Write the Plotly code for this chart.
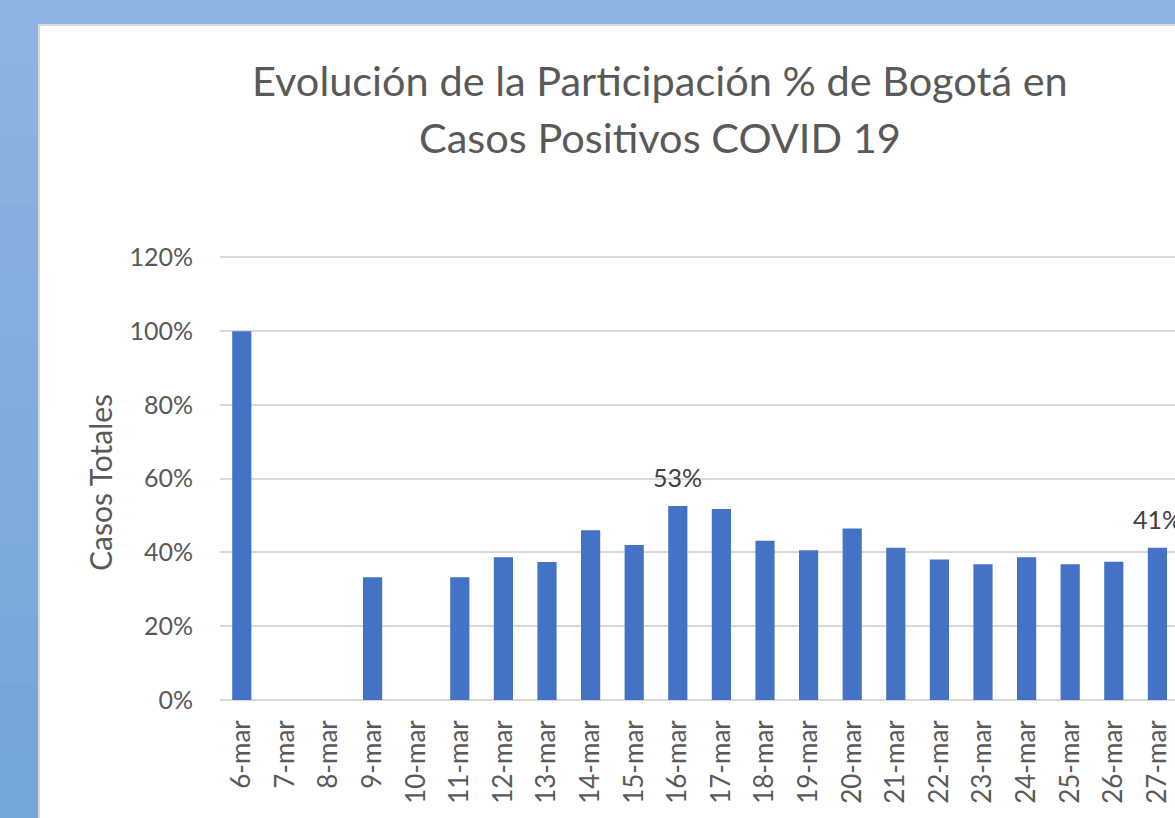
import plotly.graph_objects as go

# participación de Bogotá en casos positivos (fracción)
fechas = [f"{d}-mar" for d in range(6, 28)]
participacion = [
    1.000, 0.0, 0.0, 0.333, 0.0, 0.333, 0.387, 0.374, 0.460, 0.420, 0.526,
    0.518, 0.432, 0.406, 0.465, 0.413, 0.381, 0.368, 0.387, 0.368, 0.375, 0.413,
]
etiquetas = ["16-mar", "27-mar"]
y_ticks = [0, 0.2, 0.4, 0.6, 0.8, 1.0, 1.2]

W, H = 1175, 818
L, T, B = 220, 250, 118
plot_w = W - L
plot_h = H - T - B
step = 43.6

FONT = "Lato, 'Open Sans', sans-serif"
GRAY = "#595959"
GRID = "#d9d9d9"

fig = go.Figure()
fig.add_trace(go.Bar(
    x=fechas, y=participacion,
    marker=dict(color="#4472c4", line=dict(width=0)),
    hoverinfo="x+y",
))

annotations = []
for f in etiquetas:
    v = participacion[fechas.index(f)]
    annotations.append(dict(x=f, y=v, xref="x", yref="y", text=f"{v:.0%}", showarrow=False,
                            xanchor="center", yanchor="middle", yshift=29,
                            font=dict(family=FONT, size=25, color="#404040")))


def px_x(px):
    return (px - L) / plot_w


def px_y(py):
    return (H - B - py) / plot_h


annotations += [
    dict(x=px_x(660), y=px_y(80), text="Evolución de la Participación % de Bogotá en",
         font=dict(family=FONT, size=41.5, color=GRAY)),
    dict(x=px_x(660), y=px_y(137), text="Casos Positivos COVID 19",
         font=dict(family=FONT, size=41.5, color=GRAY)),
    dict(x=px_x(100), y=px_y(483), text="Casos Totales", textangle=-90,
         font=dict(family=FONT, size=30, color=GRAY)),
]
for a in annotations[2:]:
    a.update(xref="paper", yref="paper", showarrow=False, xanchor="center", yanchor="middle")

# fondo azul con degradado suave en la franja izquierda
top_rgb, bot_rgb = (141, 179, 226), (117, 166, 217)
n_bands = 12
shapes = []
for i in range(n_bands):
    t = i / (n_bands - 1)
    c = tuple(round(a + (b - a) * t) for a, b in zip(top_rgb, bot_rgb))
    shapes.append(dict(type="rect", xref="paper", yref="paper", layer="below",
                       x0=px_x(0), x1=px_x(W), y0=px_y(H * (i + 1) / n_bands), y1=px_y(H * i / n_bands),
                       fillcolor=f"rgb{c}", line=dict(width=0)))
shapes.append(dict(type="rect", xref="paper", yref="paper", layer="below",
                   x0=px_x(39), x1=px_x(1400), y0=px_y(1000), y1=px_y(25),
                   fillcolor="white", line=dict(color=GRID, width=2)))

fig.update_layout(
    width=W, height=H,
    margin=dict(l=L, r=0, t=T, b=B, pad=0),
    paper_bgcolor="#89b0df",
    plot_bgcolor="rgba(0,0,0,0)",
    bargap=0.56,
    showlegend=False,
    annotations=annotations,
    shapes=shapes,
    font=dict(family=FONT, color=GRAY),
)
fig.update_xaxes(
    type="category", range=[-0.5, -0.5 + plot_w / step],
    tickangle=-90, tickfont=dict(size=26, color=GRAY),
    showgrid=False, showline=False, ticks="", ticklabelstandoff=14,
)
fig.update_yaxes(
    range=[0, 1.22], tickvals=y_ticks, tickformat=".0%",
    tickfont=dict(size=25, color=GRAY),
    showgrid=True, gridcolor=GRID, gridwidth=2,
    zeroline=True, zerolinecolor=GRID, zerolinewidth=2,
    showline=False, ticks="", ticklabelstandoff=26,
)

fig.write_html("out.html", config={"displayModeBar": False},
               post_script="document.body.style.margin='0';")
